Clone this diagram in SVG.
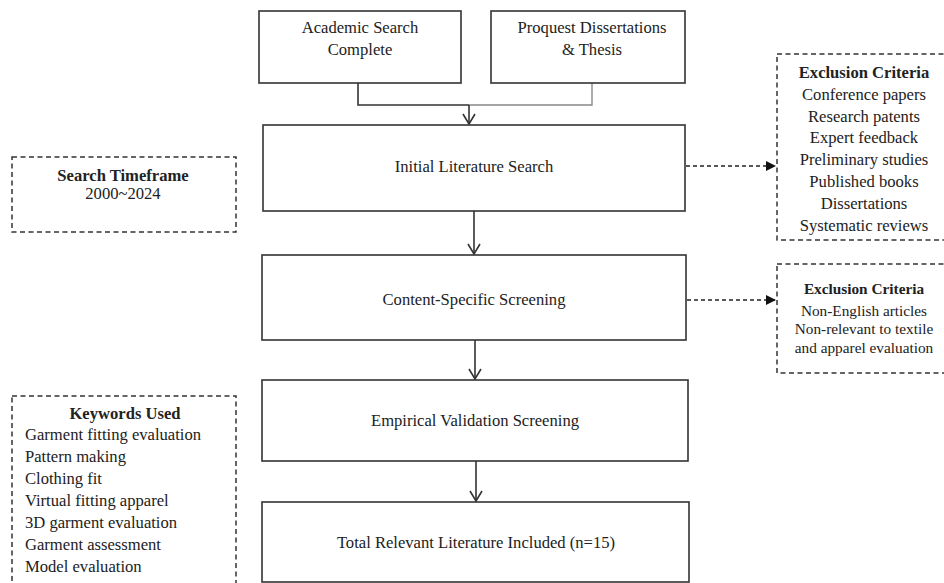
<svg xmlns="http://www.w3.org/2000/svg" width="944" height="583" viewBox="0 0 944 583">
<style>
.box{fill:#fff;stroke:#333;stroke-width:1.6}
.dbox{fill:none;stroke:#333;stroke-width:1.5;stroke-dasharray:5,3.5}
.t{font-family:"Liberation Serif","Times New Roman",serif;font-size:16.6px;fill:#222;text-anchor:middle}
.s{font-size:15.3px}
.b{font-weight:bold}
.l{text-anchor:start}
.ln{fill:none;stroke:#333;stroke-width:1.6}
.dl{fill:none;stroke:#222;stroke-width:1.6;stroke-dasharray:4,3}
</style>
<defs>
<marker id="v" viewBox="0 0 14 14" refX="13" refY="7" markerWidth="14" markerHeight="14" markerUnits="userSpaceOnUse" orient="auto">
<path d="M3,1 L13,7 L3,13" fill="none" stroke="#333" stroke-width="1.6"/>
</marker>
<marker id="tri" viewBox="0 0 10 10" refX="10" refY="5" markerWidth="10" markerHeight="10" markerUnits="userSpaceOnUse" orient="auto">
<path d="M0,0 L10,5 L0,10 Z" fill="#111"/>
</marker>
</defs>
<g id="connectors">
<path class="ln" d="M358,83 V105 H469"/>
<path d="M469,105 H592 V83" fill="none" stroke="#888" stroke-width="1.4"/>
<path class="ln" d="M469,105 V124" marker-end="url(#v)"/>
<path class="ln" d="M474,211 V254" marker-end="url(#v)"/>
<path class="ln" d="M475,340 V379" marker-end="url(#v)"/>
<path class="ln" d="M476,461 V501" marker-end="url(#v)"/>
<path class="dl" d="M686,166 H776" marker-end="url(#tri)"/>
<path class="dl" d="M687,300 H776" marker-end="url(#tri)"/>
</g>
<g id="src1">
<rect class="box" x="259" y="11" width="202" height="72"/>
<text class="t" x="360" y="33">Academic Search</text>
<text class="t" x="360" y="55">Complete</text>
</g>
<g id="src2">
<rect class="box" x="491" y="11" width="194" height="72"/>
<text class="t" x="592" y="33">Proquest Dissertations</text>
<text class="t" x="592" y="55">&amp; Thesis</text>
</g>
<g id="initial">
<rect class="box" x="263" y="125" width="422" height="86"/>
<text class="t" x="474" y="172">Initial Literature Search</text>
</g>
<g id="content">
<rect class="box" x="262" y="255" width="424" height="85"/>
<text class="t" x="474" y="305">Content-Specific Screening</text>
</g>
<g id="empirical">
<rect class="box" x="262" y="380" width="426" height="81"/>
<text class="t" x="475" y="426">Empirical Validation Screening</text>
</g>
<g id="total">
<rect class="box" x="262" y="502" width="427" height="80"/>
<text class="t" x="476" y="548">Total Relevant Literature Included (n=15)</text>
</g>
<g id="excl1">
<rect class="dbox" x="777" y="54" width="175" height="186"/>
<text class="t b" x="864" y="78">Exclusion Criteria</text>
<text class="t" x="864" y="100">Conference papers</text>
<text class="t" x="864" y="122">Research patents</text>
<text class="t" x="864" y="143">Expert feedback</text>
<text class="t" x="864" y="165">Preliminary studies</text>
<text class="t" x="864" y="187">Published books</text>
<text class="t" x="864" y="209">Dissertations</text>
<text class="t" x="864" y="231">Systematic reviews</text>
</g>
<g id="excl2">
<rect class="dbox" x="777" y="264" width="175" height="109"/>
<text class="t s b" x="864" y="294">Exclusion Criteria</text>
<text class="t s" x="864" y="316">Non-English articles</text>
<text class="t s" x="864" y="334">Non-relevant to textile</text>
<text class="t s" x="864" y="353">and apparel evaluation</text>
</g>
<g id="timeframe">
<rect class="dbox" x="12" y="157" width="224" height="75"/>
<text class="t b" x="123" y="181">Search Timeframe</text>
<text class="t" x="123" y="199">2000~2024</text>
</g>
<g id="keywords">
<rect class="dbox" x="12" y="396" width="224" height="200"/>
<text class="t b" x="125" y="419">Keywords Used</text>
<text class="t l" x="25" y="440">Garment fitting evaluation</text>
<text class="t l" x="25" y="462">Pattern making</text>
<text class="t l" x="25" y="484">Clothing fit</text>
<text class="t l" x="25" y="506">Virtual fitting apparel</text>
<text class="t l" x="25" y="528">3D garment evaluation</text>
<text class="t l" x="25" y="550">Garment assessment</text>
<text class="t l" x="25" y="572">Model evaluation</text>
</g>
</svg>
